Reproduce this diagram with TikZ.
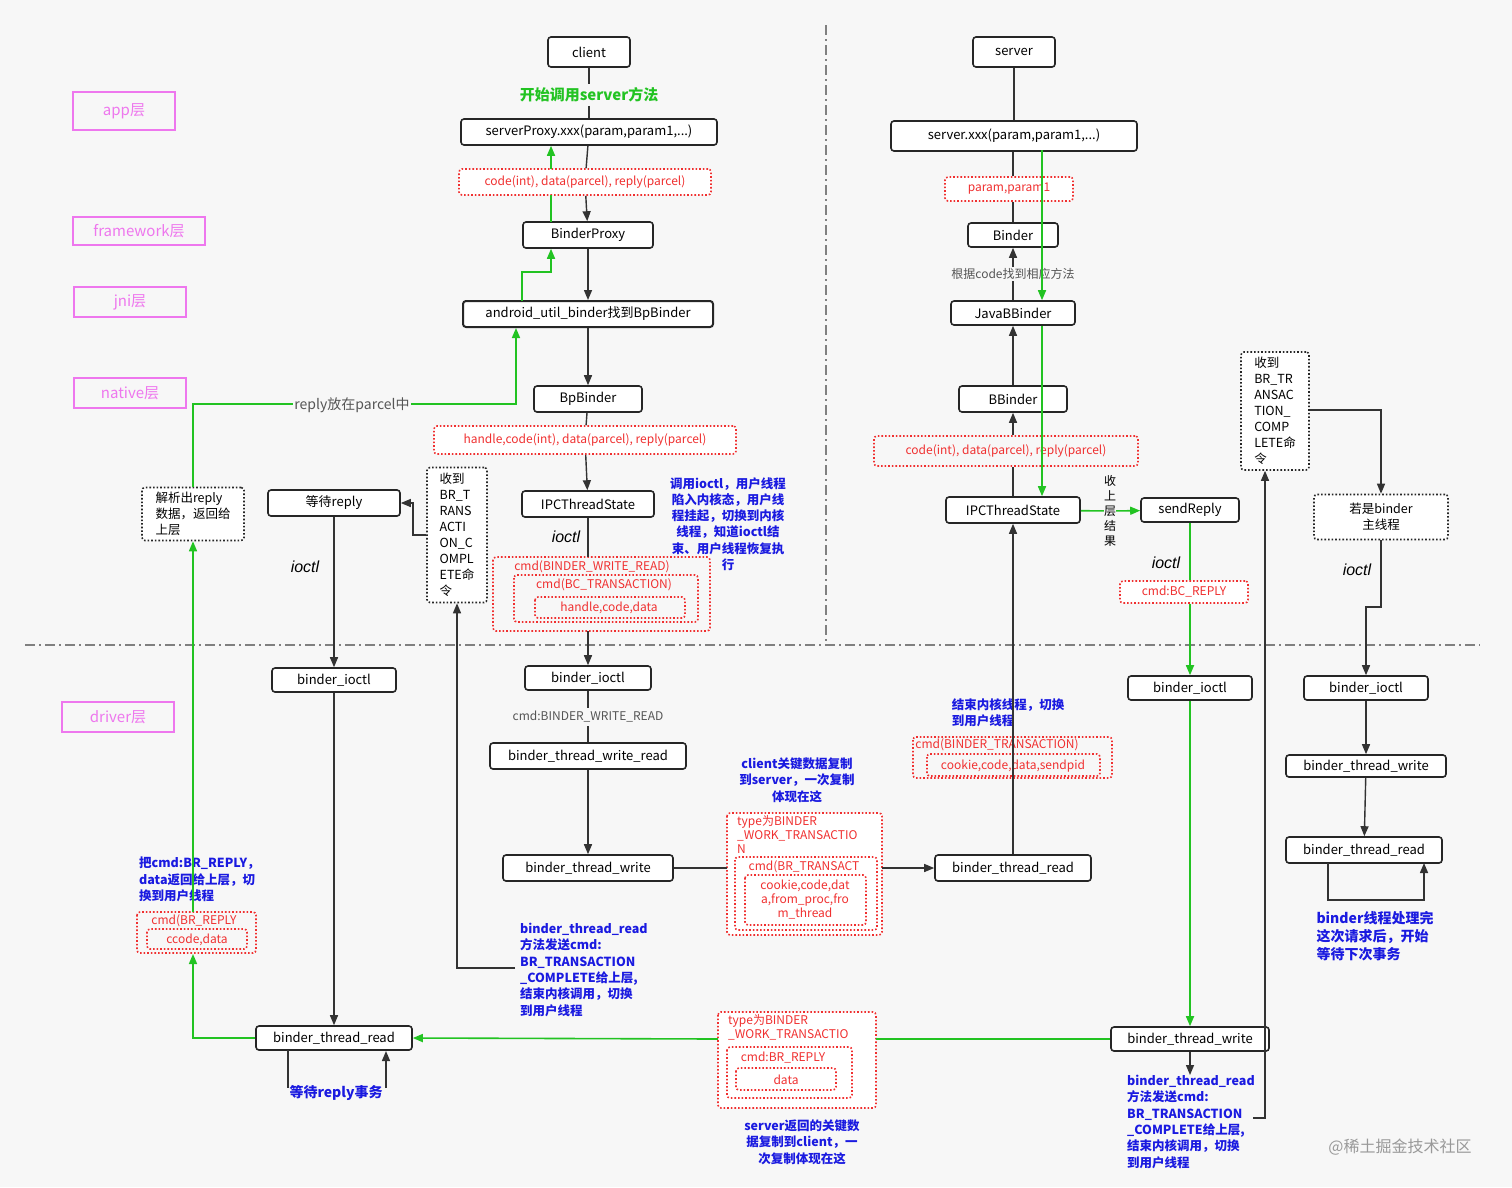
\documentclass[tikz,border=0pt]{standalone}
\usepackage{fontspec}
\setmainfont{Noto Sans CJK SC}
\newfontfamily\lat{Liberation Sans}
\usetikzlibrary{arrows.meta}
\definecolor{mag}{HTML}{EE77EE}
\definecolor{rd}{HTML}{F03030}
\definecolor{bl}{HTML}{1A1AE0}
\definecolor{gr}{HTML}{22C322}
\definecolor{gy}{HTML}{555555}
\begin{document}
\begin{tikzpicture}[x=1pt,y=-1pt,
 every node/.style={font=\fontsize{13}{15}\selectfont},
 box/.style={draw=black!85,line width=1.6,rounded corners=3,fill=white,inner sep=0,align=center},
 lay/.style={draw=mag,line width=1.6,text=mag,inner sep=0,font=\fontsize{15}{17}\selectfont},
 rbox/.style={draw=rd,line width=1.6,dotted,rounded corners=3},
 rtxt/.style={text=rd,font=\fontsize{12}{14}\selectfont,align=center,inner sep=0},
 btxt/.style={text=bl,font=\bfseries\fontsize{12.5}{16.3}\selectfont,inner sep=0},
 kbox/.style={draw=black!85,line width=1.6,dotted,rounded corners=3,fill=white,align=left,inner sep=0,font=\fontsize{12.5}{16}\selectfont},
 ln/.style={draw=black!80,line width=1.4},
 ar/.style={ln,-{Triangle[length=10,width=8]}},
 gl/.style={draw=gr,line width=1.6},
 ga/.style={gl,-{Triangle[length=10,width=8]}},
 lab/.style={font=\lat\itshape\fontsize{16}{18}\selectfont,inner sep=0}]
\fill[white!97!black] (0,0) rectangle (1512,1187);
\useasboundingbox (0,0) rectangle (1512,1187);
% separators
\draw[gray,line width=2.5,dash pattern=on 10pt off 4pt on 2pt off 4pt] (826,25) -- (826,645);
\draw[gray,line width=2.5,dash pattern=on 10pt off 4pt on 2pt off 4pt] (25,645) -- (1480,645);
% layer labels
\node[lay,minimum width=102,minimum height=38] (app) at (124,111) {app层};
\node[lay,minimum width=132,minimum height=28] (fw) at (139,231) {framework层};
\node[lay,minimum width=112,minimum height=30] (jni) at (130,302) {jni层};
\node[lay,minimum width=112,minimum height=30] (nat) at (130,393) {native层};
\node[lay,minimum width=112,minimum height=30] (drv) at (118,717) {driver层};
% ===== client column
\node[box,minimum width=82,minimum height=30] (client) at (589,52) {client};
\node[text=gr,font=\bfseries\fontsize{15}{17}\selectfont] (start) at (589,95) {开始调用server方法};
\node[box,minimum width=256,minimum height=26] (sp) at (589,132) {serverProxy.xxx(param,param1,...)};
\node[rbox,minimum width=252,minimum height=26,rtxt,fill=white] (c1) at (585,182) {code(int), data(parcel), reply(parcel)};
\node[box,minimum width=130,minimum height=26] (bp) at (588,235) {BinderProxy};
\node[box,minimum width=250,minimum height=26,line width=2] (aub) at (588,314) {android\_util\_binder找到BpBinder};
\node[box,minimum width=108,minimum height=26] (bpb) at (588,399) {BpBinder};
\node[rbox,minimum width=302,minimum height=28,rtxt,fill=white] (c2) at (585,440) {handle,code(int), data(parcel), reply(parcel)};
\node[box,minimum width=132,minimum height=26] (ipc1) at (588,504) {IPCThreadState};
\node[lab] (io1) at (566,537) {ioctl};
\draw[rbox] (493,557) rectangle (710,631);
\draw[rbox] (514,575) rectangle (698,622);
\draw[rbox] (535,597) rectangle (685,618);
\coordinate (t1top) at (588,557);
\coordinate (t1bot) at (588,631);
\node[rtxt] (t1) at (592,567) {cmd(BINDER\_WRITE\_READ)};
\node[rtxt] (t2) at (604,585) {cmd(BC\_TRANSACTION)};
\node[rtxt] (t3) at (609,608) {handle,code,data};
\node[btxt,align=center] (n1) at (728,524) {调用ioctl，用户线程\\陷入内核态，用户线\\程挂起，切换到内核\\线程，知道ioctl结\\束、用户线程恢复执\\行};
\node[box,minimum width=126,minimum height=24] (bi1) at (588,678) {binder\_ioctl};
\node[text=gy,font=\fontsize{12}{14}\selectfont] (cmdw) at (588,717) {cmd:BINDER\_WRITE\_READ};
\node[box,minimum width=196,minimum height=26] (bwr) at (588,756) {binder\_thread\_write\_read};
\node[box,minimum width=170,minimum height=26] (btw1) at (588,868) {binder\_thread\_write};
\node[btxt,align=left,anchor=north west] (n2) at (520,923) {binder\_thread\_read\\方法发送cmd:\\BR\_TRANSACTION\\\_COMPLETE给上层,\\结束内核调用，切换\\到用户线程};
\node[kbox,minimum width=60,minimum height=135] (rc1) at (457,535) {收到\\BR\_T\\RANS\\ACTI\\ON\_C\\OMPL\\ETE命\\令};
\node[box,minimum width=132,minimum height=26] (wr) at (334,503) {等待reply};
\node[lab] (io2) at (305,567) {ioctl};
\node[box,minimum width=124,minimum height=24] (bi0) at (334,680) {binder\_ioctl};
\node[box,minimum width=156,minimum height=24] (btr0) at (334,1038) {binder\_thread\_read};
\node[text=bl,font=\bfseries\fontsize{14}{16}\selectfont] (wre) at (336,1093) {等待reply事务};
\draw[rbox] (137,912) rectangle (256,953);
\draw[rbox] (147,929) rectangle (247,949);
\node[rtxt] (t4) at (194,921) {cmd(BR\_REPLY};
\node[rtxt] (t5) at (197,940) {ccode,data};
\node[btxt,align=left,anchor=north west] (n3) at (139,857) {把cmd:BR\_REPLY，\\data返回给上层，切\\换到用户线程};
\node[kbox,minimum width=102,minimum height=53] (par) at (193,514) {解析出reply\\数据，返回给\\上层};
% client connectors
\draw[ln] (client) -- (start);
\draw[ln] (start) -- (sp);
\draw[ln] (sp) -- (c1);
\draw[ar] (c1) -- (bp);
\draw[ar] (bp) -- (aub);
\draw[ar] (aub) -- (bpb);
\draw[ln] (bpb) -- (c2);
\draw[ar] (c2) -- (ipc1);
\draw[ln] (ipc1) -- (t1top);
\draw[ar] (t1bot) -- (bi1);
\draw[ln] (bi1) -- (cmdw);
\draw[ln] (cmdw) -- (bwr);
\draw[ar] (bwr) -- (btw1);
\draw[gl] (551,222) -- (551,195);
\draw[ga] (551,169) -- (sp.south -| 551,0);
\draw[ga] (522,301) -- (522,272) -- (551,272) -- (bp.south -| 551,0);
\draw[ar] (515,968) -- (457,968) -- (rc1.south);
\draw[ar] (rc1.west |- 0,535) -- (413,535) -- (413,503) -- (wr.east);
\draw[ar] (wr) -- (bi0);
\draw[ar] (bi0) -- (btr0);
\draw[ln] (288,1050) -- (288,1088);
\draw[ar] (386,1088) -- (386,1051);
\draw[ga] (btr0.west) -- (193,1038) -- (193,954);
\draw[ga] (193,912) -- (par.south);
\draw[ga] (par.north) -- (193,404) -- (516,404) -- (aub.south -| 516,0);
\node[fill=white!97!black,text=gy,inner sep=1,font=\fontsize{14}{16}\selectfont] (rp) at (352,405) {reply放在parcel中};
% ===== server column
\node[box,minimum width=82,minimum height=30] (server) at (1014,52) {server};
\node[box,minimum width=246,minimum height=30] (sx) at (1014,136) {server.xxx(param,param1,...)};
\node[rbox,minimum width=128,minimum height=24,rtxt,fill=white] (pp) at (1009,189) {param,param1};
\node[box,minimum width=90,minimum height=24] (bd) at (1013,235) {Binder};
\node[text=gy,font=\fontsize{12}{14}\selectfont,fill=white!97!black,inner sep=1] (fc) at (1013,274) {根据code找到相应方法};
\node[box,minimum width=124,minimum height=24] (jbb) at (1013,313) {JavaBBinder};
\node[box,minimum width=108,minimum height=26] (bbd) at (1013,399) {BBinder};
\node[rbox,minimum width=264,minimum height=30,rtxt] (c3) at (1006,451) {code(int), data(parcel), reply(parcel)};
\node[box,minimum width=134,minimum height=26] (ipc2) at (1013,510) {IPCThreadState};
\node[box,minimum width=98,minimum height=24] (sr) at (1190,510) {sendReply};
\node[align=center,font=\fontsize{12}{15}\selectfont,inner sep=0,fill=white!97!black] (up) at (1110,511) {收\\上\\层\\结\\果};
\node[lab] (io3) at (1166,563) {ioctl};
\node[rbox,minimum width=128,minimum height=22,rtxt,fill=white] (bcr) at (1184,592) {cmd:BC\_REPLY};
\node[box,minimum width=124,minimum height=24] (bi2) at (1190,688) {binder\_ioctl};
\node[box,minimum width=158,minimum height=24] (btw2) at (1190,1039) {binder\_thread\_write};
\node[btxt,align=left,anchor=north west] (n4) at (1127,1075) {binder\_thread\_read\\方法发送cmd:\\BR\_TRANSACTION\\\_COMPLETE给上层,\\结束内核调用，切换\\到用户线程};
\node[btxt,align=left] (n5) at (1008,713) {结束内核线程，切换\\到用户线程};
\draw[rbox] (913,737) rectangle (1112,778);
\draw[rbox] (927,754) rectangle (1100,776);
\node[rtxt] (t6) at (997,745) {cmd(BINDER\_TRANSACTION)};
\node[rtxt] (t7) at (1013,766) {cookie,code,data,sendpid};
\node[box,minimum width=156,minimum height=26] (btr2) at (1013,868) {binder\_thread\_read};
% mid red boxes
\draw[rbox,fill=white] (727,813) rectangle (882,935);
\draw[rbox] (735,857) rectangle (877,930);
\draw[rbox] (745,875) rectangle (866,925);
\node[rtxt,align=left,anchor=north west] (t8) at (737,815) {type为BINDER\\\_WORK\_TRANSACTIO\\N};
\node[rtxt] (t9) at (804,867) {cmd(BR\_TRANSACT};
\node[rtxt] (t10) at (805,900) {cookie,code,dat\\a,from\_proc,fro\\m\_thread};
\node[btxt,align=center] (n6) at (797,780) {client关键数据复制\\到server，一次复制\\体现在这};
\draw[ln] (btw1.east) -- (727,868);
\draw[ar] (882,868) -- (btr2.west);
\draw[rbox,fill=white] (718,1012) rectangle (876,1108);
\draw[rbox] (727,1047) rectangle (852,1098);
\draw[rbox] (736,1068) rectangle (836,1090);
\node[rtxt,align=left,anchor=north west] (t11) at (728,1014) {type为BINDER\\\_WORK\_TRANSACTIO};
\node[rtxt] (t12) at (783,1058) {cmd:BR\_REPLY};
\node[rtxt] (t13) at (786,1080) {data};
\node[btxt,align=center] (n7) at (802,1142) {server返回的关键数\\据复制到client，一\\次复制体现在这};
\draw[gl] (btw2.west) -- (876,1039);
\draw[ga] (718,1039) -- (btr0.east);
% server connectors
\draw[ln] (server) -- (sx);
\draw[ln] (sx.south -| 1013,0) -- (pp.north -| 1013,0);
\draw[ln] (pp.south -| 1013,0) -- (bd);
\draw[ar] (fc) -- (bd);
\draw[ln] (jbb) -- (fc);
\draw[ar] (bbd) -- (jbb);
\draw[ar] (c3.north -| 1013,0) -- (bbd);
\draw[ln] (ipc2) -- (c3.south -| 1013,0);
\draw[ar] (btr2) -- (ipc2);
\draw[ga] (1042,150) -- (jbb.north -| 1042,0);
\draw[ga] (jbb.south -| 1042,0) -- (ipc2.north -| 1042,0);
\draw[gl] (ipc2) -- (up);
\draw[ga] (up) -- (sr);
\draw[gl] (sr) -- (bcr.north -| sr);
\draw[ga] (bcr.south -| sr) -- (bi2);
\draw[ga] (bi2) -- (btw2);
\draw[ar] (btw2) -- (n4.north -| btw2);
% right column
\node[kbox,minimum width=68,minimum height=118] (rc2) at (1275,411) {收到\\BR\_TR\\ANSAC\\TION\_\\COMP\\LETE命\\令};
\node[kbox,minimum width=134,minimum height=45,align=center] (mt) at (1381,517) {若是binder\\主线程};
\node[lab] (io4) at (1357,570) {ioctl};
\node[box,minimum width=124,minimum height=24] (bi3) at (1366,688) {binder\_ioctl};
\node[box,minimum width=160,minimum height=22] (btw3) at (1366,766) {binder\_thread\_write};
\node[box,minimum width=156,minimum height=26] (btr3) at (1364,850) {binder\_thread\_read};
\node[text=bl,font=\bfseries\fontsize{14}{18}\selectfont,align=left] (n8) at (1375,936) {binder线程处理完\\这次请求后，开始\\等待下次事务};
\draw[ar] (1253,1118) -- (1265,1118) -- (rc2.south -| 1265,0);
\draw[ar] (rc2.east |- 0,410) -- (1381,410) -- (mt.north);
\draw[ar] (mt.south) -- (1381,607) -- (1366,607) -- (bi3);
\draw[ar] (bi3) -- (btw3);
\draw[ar] (btw3) -- (btr3);
\draw[ar] (1328,863) -- (1328,900) -- (1424,900) -- (1424,863);
\node[text=gray!80,font=\fontsize{16}{18}\selectfont] (wm) at (1400,1147) {@稀土掘金技术社区};
\end{tikzpicture}
\end{document}
